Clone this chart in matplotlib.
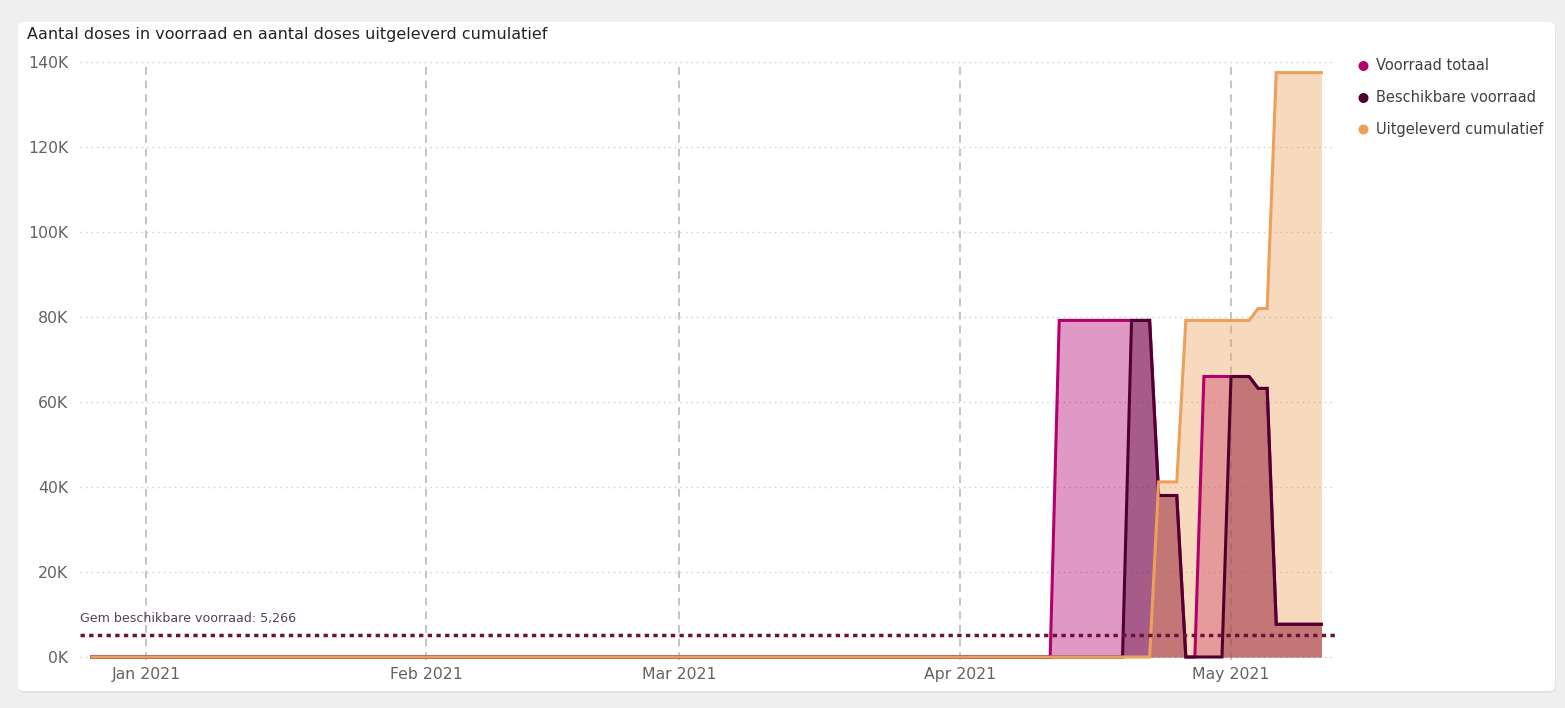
import matplotlib
matplotlib.use('Agg')
import matplotlib.pyplot as plt
import matplotlib.dates as mdates
from matplotlib.patches import FancyBboxPatch, Circle
import pandas as pd

# data: daily, 26 Dec 2020 .. 11 May 2021; everything before 11 Apr is 0
start_date, tail_date, end_date = '2020-12-26', '2021-04-11', '2021-05-11'
voorraad_totaal_tail = [0, 79200, 79200, 79200, 79200, 79200, 79200, 79200, 79200, 79200, 79200, 79200,
                        38000, 38000, 38000, 0, 0, 66000, 66000, 66000, 66000, 66000, 66000,
                        63200, 63200, 7700, 7700, 7700, 7700, 7700, 7700]
beschikbaar_tail = [0, 0, 0, 0, 0, 0, 0, 0, 0, 79200, 79200, 79200,
                    38000, 38000, 38000, 0, 0, 0, 0, 0, 66000, 66000, 66000,
                    63200, 63200, 7700, 7700, 7700, 7700, 7700, 7700]
uitgeleverd_tail = [0, 0, 0, 0, 0, 0, 0, 0, 0, 0, 0, 0,
                    41200, 41200, 41200, 79200, 79200, 79200, 79200, 79200, 79200, 79200, 79200,
                    82000, 82000, 137500, 137500, 137500, 137500, 137500, 137500]
gem_beschikbaar = 5266
series_names = ["Voorraad totaal", "Beschikbare voorraad", "Uitgeleverd cumulatief"]
y_ticks = [0, 20000, 40000, 60000, 80000, 100000, 120000, 140000]
month_ticks = ['2021-01-01', '2021-02-01', '2021-03-01', '2021-04-01', '2021-05-01']

days = pd.date_range(start_date, end_date, freq='D')
n_lead = len(pd.date_range(start_date, tail_date, freq='D')) - 1
totaal = [0] * n_lead + voorraad_totaal_tail
beschikbaar = [0] * n_lead + beschikbaar_tail
uitgeleverd = [0] * n_lead + uitgeleverd_tail

PINK, DARK, PEACH = '#b3006e', '#4f0030', '#eda05a'
REF_CLR = '#6e0f3c'
TXT, TICK = '#252423', '#66635f'
W, H = 1565, 708

fig = plt.figure(figsize=(W / 100, H / 100), dpi=100, facecolor='#efefef')
bg = fig.add_axes([0, 0, 1, 1], zorder=0)
bg.set_xlim(0, W); bg.set_ylim(H, 0); bg.axis('off')
bg.add_patch(FancyBboxPatch((19, 23), 1537, 670, boxstyle="round,pad=0,rounding_size=6",
                            fc='#e4e4e4', ec='none'))
bg.add_patch(FancyBboxPatch((18, 22), 1537, 669, boxstyle="round,pad=0,rounding_size=6",
                            fc='white', ec='none'))

# plot area (pixel geometry)
k = 595 / 140000
y_lo, y_hi = -1500, 141500
top_px, bot_px = 62 - (y_hi - 140000) * k, 657 + (-y_lo) * k
left_px, right_px = 80, 1335
ax = fig.add_axes([left_px / W, (H - bot_px) / H, (right_px - left_px) / W, (bot_px - top_px) / H], zorder=1)
ax.set_facecolor('none')

ax.fill_between(days, 0, totaal, color=PINK, alpha=0.4, lw=0, zorder=2)
ax.fill_between(days, 0, beschikbaar, color=DARK, alpha=0.4, lw=0, zorder=2)
ax.fill_between(days, 0, uitgeleverd, color=PEACH, alpha=0.4, lw=0, zorder=2)
ax.plot(days, totaal, color=PINK, lw=2.2, zorder=3, solid_joinstyle='miter')
ax.plot(days, beschikbaar, color=DARK, lw=2.2, zorder=3, solid_joinstyle='miter')
ax.plot(days, uitgeleverd, color=PEACH, lw=2.2, zorder=4, solid_joinstyle='miter')

ax.axhline(gem_beschikbaar, color=REF_CLR, lw=2.5, ls=(0, (1.25, 1.25)), zorder=5)
ax.text(0.0, 9000, "Gem beschikbare voorraad: 5,266", transform=ax.get_yaxis_transform(),
        ha='left', va='center', fontsize=9.1, color='#55405a')

jan1 = mdates.date2num(pd.Timestamp('2021-01-01'))
ax.set_xlim(jan1 - 7.3, jan1 + 131.5)
ax.set_ylim(y_lo, y_hi)
ax.set_yticks(y_ticks)
ax.set_yticklabels([f"{int(v / 1000)}K" for v in y_ticks])
ax.set_xticks([pd.Timestamp(m) for m in month_ticks])
ax.set_xticklabels([pd.Timestamp(m).strftime('%b %Y') for m in month_ticks])
ax.tick_params(axis='y', length=0, pad=8.6, labelsize=11.3, labelcolor=TICK)
ax.tick_params(axis='x', length=0, pad=2.6, labelsize=11.3, labelcolor=TICK)
for s in ax.spines.values():
    s.set_visible(False)
for yv in y_ticks:
    ax.axhline(yv, color='#cccccc', lw=1.0, ls=(0, (1, 3)), zorder=1)
ax.vlines([pd.Timestamp(m) for m in month_ticks], -800, 140000,
          color='#c4c4c4', lw=1.4, ls=(0, (4, 3)), zorder=1)

fig.text(27 / W, 1 - 35 / H, "Aantal doses in voorraad en aantal doses uitgeleverd cumulatief",
         ha='left', va='center', fontsize=11.5, color=TXT)

for name, col, yc in zip(series_names, [PINK, DARK, PEACH], [66, 98, 129.5]):
    bg.add_patch(Circle((1363.5, yc), 5, fc=col, ec='none'))
    bg.text(1376, yc, name, ha='left', va='center', fontsize=10.5, color='#404040')

plt.savefig('out.png', dpi=100, facecolor=fig.get_facecolor())
plt.close()
